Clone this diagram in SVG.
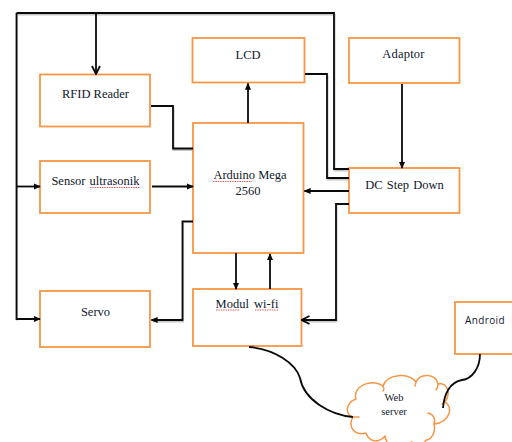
<svg xmlns="http://www.w3.org/2000/svg" width="512" height="442" viewBox="0 0 512 442">
<style>
.box{fill:#fff;stroke:#f79646;stroke-width:1.8}
.cloud{fill:#fff;stroke:#f79646;stroke-width:1.5;stroke-linejoin:round;stroke-linecap:round}
.inner{fill:none;stroke:#f79646;stroke-width:1.5;stroke-linecap:round}
.wire{fill:none;stroke:#0a0a0a;stroke-width:1.8;stroke-linejoin:miter}
.shadow{fill:none;stroke:#000;stroke-opacity:.22;stroke-width:2}
.lbl{font-family:"Liberation Serif",serif;font-size:12.500px;fill:#10182a;text-anchor:middle}
.small{font-size:10.500px}
.sans{font-family:"Open Sans","Liberation Sans",sans-serif;font-size:10px;letter-spacing:.4px}
.sq{fill:none;stroke:#e0423c;stroke-width:.9;stroke-dasharray:1.4 1}
</style>
<defs>
<marker id="fill" viewBox="0 0 8 8" refX="7" refY="4" markerWidth="7" markerHeight="7" markerUnits="userSpaceOnUse" orient="auto"><path d="M0 .5L8 4L0 7.5z" fill="#0a0a0a"/></marker>
<marker id="open" viewBox="0 0 10 10" refX="9" refY="5" markerWidth="10" markerHeight="10" markerUnits="userSpaceOnUse" orient="auto"><path d="M1 1L9 5L1 9" fill="none" stroke="#0a0a0a" stroke-width="1.8"/></marker>
</defs>
<rect width="512" height="442" fill="#fff"/>

<g id="connector-shadows" class="shadow" transform="translate(.6 1.6)">
<path d="M16.5 319V13H334V169H349"/><path d="M173 106V148.5H193"/><path d="M327 74V178H349"/><path d="M182.500 221.500V320H152"/><path d="M336 204V320H302"/>
</g>

<g id="rfid"><rect class="box" x="40" y="74.500" width="110" height="52"/><text class="lbl" x="95.500" y="97.500">RFID Reader</text></g>
<g id="sensor"><rect class="box" x="40" y="161" width="110" height="52"/><text class="lbl" x="95.500" y="184.500" word-spacing="1">Sensor ultrasonik</text><path class="sq" d="M90 187.500H140"/></g>
<g id="servo"><rect class="box" x="40" y="291" width="110" height="56"/><text class="lbl" x="95.500" y="316">Servo</text></g>
<g id="lcd"><rect class="box" x="192.500" y="38" width="112" height="44.500"/><text class="lbl" x="248" y="58.500">LCD</text></g>
<g id="arduino"><rect class="box" x="193" y="123" width="110.500" height="130"/><text class="lbl" x="250" y="179">Arduino Mega</text><text class="lbl" x="248" y="195">2560</text><path class="sq" d="M213 181.500H252"/></g>
<g id="modul"><rect class="box" x="193" y="289" width="108.500" height="57"/><text class="lbl" x="247" y="307.500" word-spacing="2">Modul wi-fi</text><path class="sq" d="M216 310H239M255 310H279"/></g>
<g id="adaptor"><rect class="box" x="349" y="38" width="110.500" height="45"/><text class="lbl" x="403.500" y="58" letter-spacing=".2">Adaptor</text></g>
<g id="dc"><rect class="box" x="349" y="168" width="110.500" height="45"/><text class="lbl" x="404.500" y="189" word-spacing="1">DC Step Down</text></g>
<g id="android"><rect class="box" x="455" y="302" width="60" height="52"/><text class="lbl sans" x="485" y="324">Android</text></g>
<g id="webserver">
<path class="cloud" d="M353 417C345 415 345 403 356 399C352 386 372 378 383 386C387 374 408 372 416 382C421 372 436 374 438 384C446 382 452 392 445 402C453 406 451 422 434 424C436 433 431 440 426 440C424 445 416 446 412 442L390 448C388 446 386 440 385 436C380 442 370 444 366 433C356 436 347 428 353 417Z"/>
<path class="inner" d="M428 413C433 414 436 419 434 424M353 417H359M438 384C438 387 437 389 436 390M383 386C384 388 384 390 383 391M416 382L415 386M445 402L442 404"/>
<text class="lbl small" x="394" y="401">Web</text><text class="lbl small" x="394" y="415">server</text>
</g>

<g id="connectors">
<path class="wire" d="M96 13V74" marker-end="url(#open)"/>
<path class="wire" d="M16.500 13H334V169H349"/>
<path class="wire" d="M16.500 13V319H40" marker-end="url(#fill)"/>
<path class="wire" d="M16.500 186.500H40" marker-end="url(#fill)"/>
<path class="wire" d="M151 106H173V148.500H193"/>
<path class="wire" d="M152 186.500H193" marker-end="url(#fill)"/>
<path class="wire" d="M248 123V83.500" marker-end="url(#fill)"/>
<path class="wire" d="M305 74H327V178H349"/>
<path class="wire" d="M402 84V168" marker-end="url(#fill)"/>
<path class="wire" d="M349 191H304.500" marker-end="url(#fill)"/>
<path class="wire" d="M349 204H336V320H301.500" marker-end="url(#open)"/>
<path class="wire" d="M193 221.500H182.500V320H151.500" marker-end="url(#fill)"/>
<path class="wire" d="M236 253V289" marker-end="url(#fill)"/>
<path class="wire" d="M270 289V254" marker-end="url(#fill)"/>
<path class="wire" d="M249 347C275 349 296 364 300 378C304 400 330 415 353 417"/>
<path class="wire" d="M480 354C480 368 472 379 462 380C450 382 444 394 443 408"/>
</g>
</svg>
